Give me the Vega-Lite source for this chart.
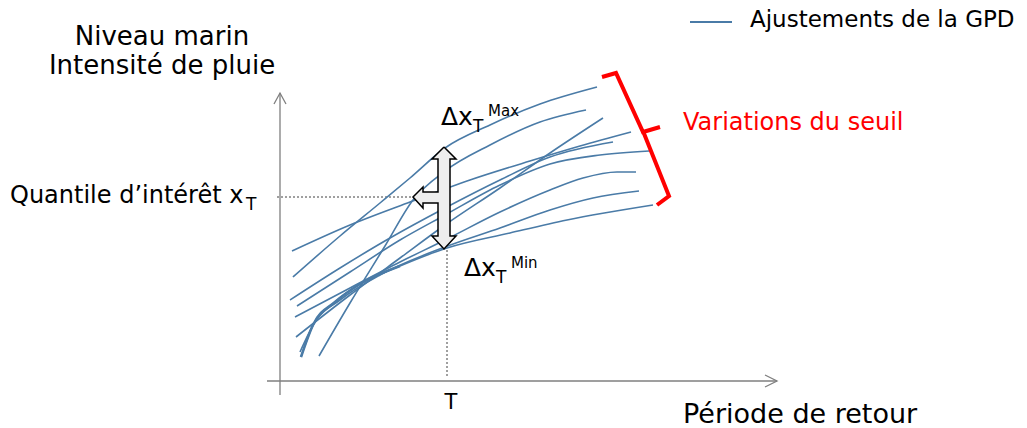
{
  "$schema": "https://vega.github.io/schema/vega-lite/v6.json",
  "width": 1027,
  "height": 428,
  "padding": 0,
  "autosize": {"type": "none"},
  "background": "white",
  "config": {"view": {"stroke": null}, "text": {"font": "DejaVu Sans"}},
  "datasets": {
    "courbes": [
      {"c": "A", "x": 293, "y": 277}, {"c": "A", "x": 340, "y": 236}, {"c": "A", "x": 380, "y": 203}, {"c": "A", "x": 410, "y": 178}, {"c": "A", "x": 445, "y": 148}, {"c": "A", "x": 490, "y": 125}, {"c": "A", "x": 540, "y": 104}, {"c": "A", "x": 597, "y": 87},
      {"c": "B", "x": 292, "y": 251}, {"c": "B", "x": 350, "y": 225}, {"c": "B", "x": 410, "y": 202}, {"c": "B", "x": 470, "y": 180}, {"c": "B", "x": 530, "y": 161}, {"c": "B", "x": 580, "y": 146}, {"c": "B", "x": 631, "y": 132},
      {"c": "C", "x": 319, "y": 356}, {"c": "C", "x": 350, "y": 303}, {"c": "C", "x": 385, "y": 246}, {"c": "C", "x": 413, "y": 200}, {"c": "C", "x": 445, "y": 171}, {"c": "C", "x": 490, "y": 145}, {"c": "C", "x": 540, "y": 122}, {"c": "C", "x": 586, "y": 110},
      {"c": "D", "x": 296, "y": 337}, {"c": "D", "x": 350, "y": 295}, {"c": "D", "x": 400, "y": 258}, {"c": "D", "x": 445, "y": 225}, {"c": "D", "x": 500, "y": 188}, {"c": "D", "x": 550, "y": 153}, {"c": "D", "x": 603, "y": 118},
      {"c": "E", "x": 290, "y": 300}, {"c": "E", "x": 340, "y": 268}, {"c": "E", "x": 390, "y": 238}, {"c": "E", "x": 445, "y": 208}, {"c": "E", "x": 500, "y": 180}, {"c": "E", "x": 550, "y": 157}, {"c": "E", "x": 613, "y": 142},
      {"c": "F", "x": 297, "y": 306}, {"c": "F", "x": 350, "y": 272}, {"c": "F", "x": 400, "y": 240}, {"c": "F", "x": 445, "y": 215}, {"c": "F", "x": 500, "y": 185}, {"c": "F", "x": 550, "y": 164}, {"c": "F", "x": 600, "y": 155}, {"c": "F", "x": 649, "y": 151},
      {"c": "G", "x": 295, "y": 317}, {"c": "G", "x": 350, "y": 288}, {"c": "G", "x": 400, "y": 262}, {"c": "G", "x": 445, "y": 240}, {"c": "G", "x": 500, "y": 212}, {"c": "G", "x": 550, "y": 190}, {"c": "G", "x": 583, "y": 178}, {"c": "G", "x": 617, "y": 172}, {"c": "G", "x": 636, "y": 172},
      {"c": "H", "x": 300, "y": 352}, {"c": "H", "x": 315, "y": 322}, {"c": "H", "x": 340, "y": 300}, {"c": "H", "x": 380, "y": 275}, {"c": "H", "x": 445, "y": 247}, {"c": "H", "x": 500, "y": 228}, {"c": "H", "x": 550, "y": 210}, {"c": "H", "x": 593, "y": 198}, {"c": "H", "x": 639, "y": 191},
      {"c": "I", "x": 301, "y": 357}, {"c": "I", "x": 313, "y": 325}, {"c": "I", "x": 335, "y": 302}, {"c": "I", "x": 360, "y": 284}, {"c": "I", "x": 400, "y": 266}, {"c": "I", "x": 447, "y": 248}, {"c": "I", "x": 510, "y": 233}, {"c": "I", "x": 567, "y": 220}, {"c": "I", "x": 653, "y": 205}
    ],
    "formes": [
      {"s": "axe_y", "i": 1, "x": 280, "y": 395}, {"s": "axe_y", "i": 2, "x": 280, "y": 93},
      {"s": "fleche_y", "i": 1, "x": 274, "y": 104}, {"s": "fleche_y", "i": 2, "x": 280, "y": 93}, {"s": "fleche_y", "i": 3, "x": 286, "y": 104},
      {"s": "axe_x", "i": 1, "x": 267, "y": 381}, {"s": "axe_x", "i": 2, "x": 777, "y": 381},
      {"s": "fleche_x", "i": 1, "x": 765, "y": 375}, {"s": "fleche_x", "i": 2, "x": 777, "y": 381}, {"s": "fleche_x", "i": 3, "x": 765, "y": 387},
      {"s": "pointille_h", "i": 1, "x": 277, "y": 197}, {"s": "pointille_h", "i": 2, "x": 415, "y": 197},
      {"s": "pointille_v", "i": 1, "x": 447, "y": 250}, {"s": "pointille_v", "i": 2, "x": 447, "y": 378},
      {"s": "double_fleche", "i": 1, "x": 444, "y": 147},
      {"s": "double_fleche", "i": 2, "x": 456, "y": 159},
      {"s": "double_fleche", "i": 3, "x": 450, "y": 159},
      {"s": "double_fleche", "i": 4, "x": 450, "y": 236},
      {"s": "double_fleche", "i": 5, "x": 456, "y": 236},
      {"s": "double_fleche", "i": 6, "x": 444, "y": 249},
      {"s": "double_fleche", "i": 7, "x": 432, "y": 236},
      {"s": "double_fleche", "i": 8, "x": 438, "y": 236},
      {"s": "double_fleche", "i": 9, "x": 438, "y": 203},
      {"s": "double_fleche", "i": 10, "x": 423, "y": 203},
      {"s": "double_fleche", "i": 11, "x": 423, "y": 208},
      {"s": "double_fleche", "i": 12, "x": 413, "y": 197},
      {"s": "double_fleche", "i": 13, "x": 423, "y": 187},
      {"s": "double_fleche", "i": 14, "x": 423, "y": 192},
      {"s": "double_fleche", "i": 15, "x": 438, "y": 192},
      {"s": "double_fleche", "i": 16, "x": 438, "y": 159},
      {"s": "double_fleche", "i": 17, "x": 432, "y": 159},
      {"s": "double_fleche", "i": 18, "x": 444, "y": 147},
      {"s": "accolade_haut", "i": 1, "x": 602, "y": 77}, {"s": "accolade_haut", "i": 2, "x": 616, "y": 73}, {"s": "accolade_haut", "i": 3, "x": 643, "y": 132}, {"s": "accolade_haut", "i": 4, "x": 660, "y": 127},
      {"s": "accolade_bas", "i": 1, "x": 643, "y": 131}, {"s": "accolade_bas", "i": 2, "x": 669, "y": 196}, {"s": "accolade_bas", "i": 3, "x": 657, "y": 205},
      {"s": "legende", "i": 1, "x": 690, "y": 22}, {"s": "legende", "i": 2, "x": 732, "y": 22}
    ],
    "textes": [
      {"g": "titre", "t": "Niveau marin", "x": 162, "y": 45},
      {"g": "titre", "t": "Intensité de pluie", "x": 162, "y": 74},
      {"g": "periode", "t": "Période de retour", "x": 683, "y": 423},
      {"g": "quantile", "t": "Quantile d’intérêt x", "x": 10, "y": 203},
      {"g": "delta", "t": "Δx", "x": 441, "y": 125},
      {"g": "delta", "t": "Δx", "x": 464, "y": 276},
      {"g": "indice", "t": "T", "x": 246, "y": 210},
      {"g": "indice", "t": "T", "x": 473, "y": 132},
      {"g": "indice", "t": "T", "x": 496, "y": 283},
      {"g": "exposant", "t": "Max", "x": 488, "y": 116},
      {"g": "exposant", "t": "Min", "x": 511, "y": 268},
      {"g": "T", "t": "T", "x": 451, "y": 409},
      {"g": "legende", "t": "Ajustements de la GPD", "x": 750, "y": 27},
      {"g": "rouge", "t": "Variations du seuil", "x": 683, "y": 130}
    ]
  },
  "encoding": {
    "x": {"field": "x", "type": "quantitative", "scale": {"domain": [0, 1027], "nice": false, "zero": false}, "axis": null},
    "y": {"field": "y", "type": "quantitative", "scale": {"domain": [0, 428], "nice": false, "zero": false, "reverse": true}, "axis": null}
  },
  "layer": [
    {
      "data": {"name": "formes"},
      "transform": [{"filter": {"field": "s", "oneOf": ["axe_x", "axe_y", "fleche_x", "fleche_y"]}}],
      "mark": {"type": "line", "color": "#7f7f7f", "strokeWidth": 1.3},
      "encoding": {"detail": {"field": "s"}, "order": {"field": "i", "type": "quantitative"}}
    },
    {
      "data": {"name": "formes"},
      "transform": [{"filter": {"field": "s", "oneOf": ["pointille_h", "pointille_v"]}}],
      "mark": {"type": "line", "color": "#404040", "strokeWidth": 1, "strokeDash": [2, 2]},
      "encoding": {"detail": {"field": "s"}, "order": {"field": "i", "type": "quantitative"}}
    },
    {
      "data": {"name": "courbes"},
      "mark": {"type": "line", "interpolate": "monotone", "color": "#4a7ba7", "strokeWidth": 1.6},
      "encoding": {"detail": {"field": "c"}}
    },
    {
      "data": {"name": "courbes"},
      "transform": [{"filter": {"and": [{"field": "c", "equal": "I"}, {"field": "x", "lte": 400}]}}],
      "mark": {"type": "line", "interpolate": "monotone", "color": "#4a7ba7", "strokeWidth": 2.6},
      "encoding": {"detail": {"field": "c"}}
    },
    {
      "data": {"name": "formes"},
      "transform": [{"filter": {"field": "s", "equal": "double_fleche"}}],
      "mark": {"type": "line", "filled": true, "fill": "#eeeeee", "stroke": "#000000", "strokeWidth": 1.5, "strokeJoin": "miter"},
      "encoding": {"order": {"field": "i", "type": "quantitative"}}
    },
    {
      "data": {"name": "formes"},
      "transform": [{"filter": {"field": "s", "oneOf": ["accolade_haut", "accolade_bas"]}}],
      "mark": {"type": "line", "color": "#ff0000", "strokeWidth": 4, "strokeJoin": "miter"},
      "encoding": {"detail": {"field": "s"}, "order": {"field": "i", "type": "quantitative"}}
    },
    {
      "data": {"name": "formes"},
      "transform": [{"filter": {"field": "s", "equal": "legende"}}],
      "mark": {"type": "line", "color": "#4a7ba7", "strokeWidth": 2},
      "encoding": {"order": {"field": "i", "type": "quantitative"}}
    },
    {
      "data": {"name": "textes"},
      "transform": [{"filter": {"field": "g", "equal": "titre"}}],
      "mark": {"type": "text", "align": "center", "baseline": "alphabetic", "fontSize": 26, "color": "#000000"},
      "encoding": {"text": {"field": "t"}}
    },
    {
      "data": {"name": "textes"},
      "transform": [{"filter": {"field": "g", "equal": "periode"}}],
      "mark": {"type": "text", "align": "left", "baseline": "alphabetic", "fontSize": 27, "color": "#000000"},
      "encoding": {"text": {"field": "t"}}
    },
    {
      "data": {"name": "textes"},
      "transform": [{"filter": {"field": "g", "equal": "quantile"}}],
      "mark": {"type": "text", "align": "left", "baseline": "alphabetic", "fontSize": 24, "color": "#000000"},
      "encoding": {"text": {"field": "t"}}
    },
    {
      "data": {"name": "textes"},
      "transform": [{"filter": {"field": "g", "equal": "delta"}}],
      "mark": {"type": "text", "align": "left", "baseline": "alphabetic", "fontSize": 25, "color": "#000000"},
      "encoding": {"text": {"field": "t"}}
    },
    {
      "data": {"name": "textes"},
      "transform": [{"filter": {"field": "g", "equal": "indice"}}],
      "mark": {"type": "text", "align": "left", "baseline": "alphabetic", "fontSize": 17, "color": "#000000"},
      "encoding": {"text": {"field": "t"}}
    },
    {
      "data": {"name": "textes"},
      "transform": [{"filter": {"field": "g", "equal": "exposant"}}],
      "mark": {"type": "text", "align": "left", "baseline": "alphabetic", "fontSize": 15, "color": "#000000"},
      "encoding": {"text": {"field": "t"}}
    },
    {
      "data": {"name": "textes"},
      "transform": [{"filter": {"field": "g", "equal": "T"}}],
      "mark": {"type": "text", "align": "center", "baseline": "alphabetic", "fontSize": 21, "color": "#000000"},
      "encoding": {"text": {"field": "t"}}
    },
    {
      "data": {"name": "textes"},
      "transform": [{"filter": {"field": "g", "equal": "legende"}}],
      "mark": {"type": "text", "align": "left", "baseline": "alphabetic", "fontSize": 23, "color": "#000000"},
      "encoding": {"text": {"field": "t"}}
    },
    {
      "data": {"name": "textes"},
      "transform": [{"filter": {"field": "g", "equal": "rouge"}}],
      "mark": {"type": "text", "align": "left", "baseline": "alphabetic", "fontSize": 24, "color": "#ff0000"},
      "encoding": {"text": {"field": "t"}}
    }
  ]
}
